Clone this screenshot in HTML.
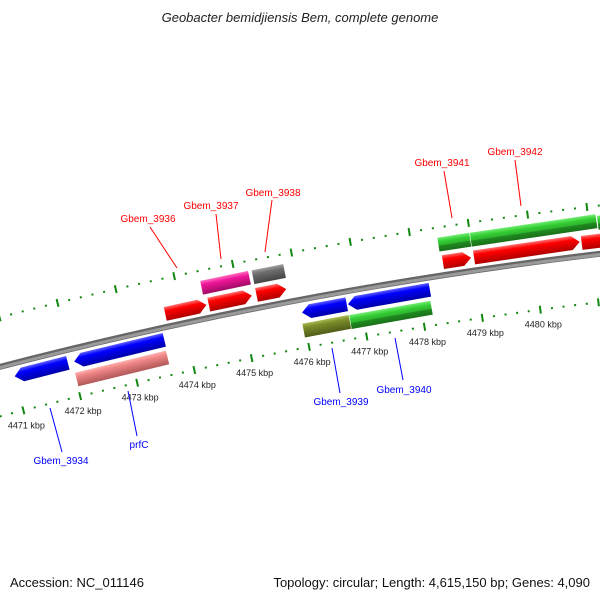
<!DOCTYPE html>
<html><head><meta charset="utf-8"><style>
html,body{margin:0;padding:0;background:#fff;}
svg{display:block;font-family:"Liberation Sans","DejaVu Sans",sans-serif;}
</style></head><body>
<svg id="chart" width="600" height="600" viewBox="0 0 600 600">
<defs>
<linearGradient id="gRed" x1="0" y1="0" x2="0" y2="1"><stop offset="0" stop-color="#ff7070"/><stop offset="0.3" stop-color="#ff0000"/><stop offset="1" stop-color="#b00000"/></linearGradient>
<linearGradient id="gPink" x1="0" y1="0" x2="0" y2="1"><stop offset="0" stop-color="#ff70c0"/><stop offset="0.3" stop-color="#f0169a"/><stop offset="1" stop-color="#a00a64"/></linearGradient>
<linearGradient id="gGray" x1="0" y1="0" x2="0" y2="1"><stop offset="0" stop-color="#a0a0a0"/><stop offset="0.3" stop-color="#6e6e6e"/><stop offset="1" stop-color="#444"/></linearGradient>
<linearGradient id="gGreen" x1="0" y1="0" x2="0" y2="1"><stop offset="0" stop-color="#70ee70"/><stop offset="0.3" stop-color="#33cc33"/><stop offset="0.55" stop-color="#2fb52f"/><stop offset="0.6" stop-color="#1f8a1f"/><stop offset="1" stop-color="#1a701a"/></linearGradient>
<linearGradient id="gBlue" x1="0" y1="0" x2="0" y2="1"><stop offset="0" stop-color="#6060ff"/><stop offset="0.3" stop-color="#0000ff"/><stop offset="1" stop-color="#0000a8"/></linearGradient>
<linearGradient id="gSalmon" x1="0" y1="0" x2="0" y2="1"><stop offset="0" stop-color="#ffb0b0"/><stop offset="0.3" stop-color="#f08585"/><stop offset="1" stop-color="#b05858"/></linearGradient>
<linearGradient id="gOlive" x1="0" y1="0" x2="0" y2="1"><stop offset="0" stop-color="#a8b850"/><stop offset="0.3" stop-color="#7a8c2a"/><stop offset="1" stop-color="#4e5c18"/></linearGradient>
</defs>
<text x="300" y="22" text-anchor="middle" font-size="13" font-style="italic" fill="#222">Geobacter bemidjiensis Bem, complete genome</text>
<g id="ticks"></g>
<g id="backbone"></g>
<g id="genes"></g>
<g id="labels"></g>
<text x="10" y="587" font-size="13" fill="#111">Accession: NC_011146</text>
<text x="590" y="587" font-size="13" fill="#111" text-anchor="end">Topology: circular; Length: 4,615,150 bp; Genes: 4,090</text>
</svg>
<script>
const kbpLabels = [4471,4472,4473,4474,4475,4476,4477,4478,4479,4480];
const tickRange = [4470.4, 4482.4];
const geneStart = [4473.72,4474.47,4475.29,4478.48,4479.01,4480.84, 4474.41,4475.29,4478.45,4479.0,4481.15, 4471.0,4472.04,4475.99,4476.78, 4472.01,4475.96,4476.77];
const geneEnd   = [4474.43,4475.21,4475.80,4478.96,4480.81,4482.5, 4475.23,4475.83,4478.99,4481.13,4483.0, 4471.93,4473.61,4476.76,4478.19, 4473.60,4476.76,4478.17];
const geneRow   = ['f1','f1','f1','f1','f1','f1','f2','f2','f2','f2','f2','r1','r1','r1','r1','r2','r2','r2'];
const geneFill  = ['gRed','gRed','gRed','gRed','gRed','gRed','gPink','gGray','gGreen','gGreen','gGreen','gBlue','gBlue','gBlue','gBlue','gSalmon','gOlive','gGreen'];
const geneArrow = ['right','right','right','right','right','right','none','none','none','none','none','left','left','left','left','none','none','none'];

const NS='http://www.w3.org/2000/svg';
const CX=1135, CY=4743, R=4521;
const rows={f1:[R+6,R+20], f2:[R+24,R+38], r1:[R-20,R-6], r2:[R-38,R-24]};
function ang(k){return -13.64+0.75*(k-4472);}
function pt(k,r){const a=ang(k)*Math.PI/180;return [CX+r*Math.sin(a), CY-r*Math.cos(a)];}
function mk(tag,attrs,parent){const e=document.createElementNS(NS,tag);for(const k in attrs)e.setAttribute(k,attrs[k]);parent.appendChild(e);return e;}

// backbone
const bb=document.getElementById('backbone');
function arcPath(r,k0,k1){const p0=pt(k0,r),p1=pt(k1,r);return `M${p0[0]},${p0[1]} A${r},${r} 0 0 1 ${p1[0]},${p1[1]}`;}
const b1=mk('path',{d:arcPath(R,4470.3,4482.6),fill:'none',stroke:'#666','stroke-width':6},bb);


const b2=mk('path',{d:arcPath(R-0.8,4470.3,4482.6),fill:'none',stroke:'#9a9a9a','stroke-width':3},bb);



// ticks
const tg=document.getElementById('ticks');
for(const rr of [R+48,R-48]){
  for(let i=0;;i++){
    const k=tickRange[0]+i*0.2; if(k>tickRange[1])break;
    const major=Math.abs(k-Math.round(k))<0.01;
    const half=Math.abs(k-Math.round(k)-0.5)<0.01||Math.abs(k-Math.round(k)+0.5)<0.01;
    const len=major?4:(half?2.5:1);
    const a=pt(k,rr-len),b=pt(k,rr+len);
    const t=mk('line',{x1:a[0],y1:a[1],x2:b[0],y2:b[1],stroke:'#118811','stroke-width':2},tg);
    
    
  }
}
kbpLabels.forEach(k=>{
  const p=pt(k,R-48);
  const t=mk('text',{x:p[0]+3,y:p[1]+18,'font-size':9,fill:'#222','text-anchor':'middle'},tg);
  t.textContent=k+' kbp';
  
  
});

// genes
const gg=document.getElementById('genes');
for(let i=0;i<geneStart.length;i++){
  const [r0,r1]=rows[geneRow[i]];
  const rm=(r0+r1)/2;
  const L=rm*(ang(geneEnd[i])-ang(geneStart[i]))*Math.PI/180;
  const yt=-r1,yb=-r0,ym=-rm;
  const hd=Math.min(8,L*0.4);
  let pts;
  if(geneArrow[i]==='right')pts=`0,${yt} ${L-hd},${yt} ${L},${ym} ${L-hd},${yb} 0,${yb}`;
  else if(geneArrow[i]==='left')pts=`${hd},${yt} ${L},${yt} ${L},${yb} ${hd},${yb} 0,${ym}`;
  else pts=`0,${yt} ${L},${yt} ${L},${yb} 0,${yb}`;
  const g=mk('g',{transform:`translate(${CX},${CY}) rotate(${ang(geneStart[i])})`},gg);
  
  
  const p=mk('polygon',{points:pts,fill:`url(#${geneFill[i]})`},g);
  
  
}

// labels
const lg=document.getElementById('labels');
const labelText=['Gbem_3936','Gbem_3937','Gbem_3938','Gbem_3941','Gbem_3942','Gbem_3934','prfC','Gbem_3939','Gbem_3940'];
const labelX=[148,211,273,442,515,61,139,341,404];
const labelY=[222,209,196,166,155,464,448,405,393];
const labelColor=['#ff0000','#ff0000','#ff0000','#ff0000','#ff0000','#0000ff','#0000ff','#0000ff','#0000ff'];
const lineA=[[150,227],[216,214],[272,200],[444,171],[515,160],[62,452],[137,436],[340,393],[403,380]];
const lineB=[[177,268],[221,259],[265,252],[452,218],[521,206],[50,408],[128,391],[332,348],[395,338]];
labelText.forEach((s,i)=>{
  const l=mk('line',{x1:lineA[i][0],y1:lineA[i][1],x2:lineB[i][0],y2:lineB[i][1],stroke:labelColor[i],'stroke-width':1},lg);
  
  
  const t=mk('text',{x:labelX[i],y:labelY[i],'font-size':10,fill:labelColor[i],'text-anchor':'middle'},lg);
  t.textContent=s;
  
  
});
</script>
</body></html>
